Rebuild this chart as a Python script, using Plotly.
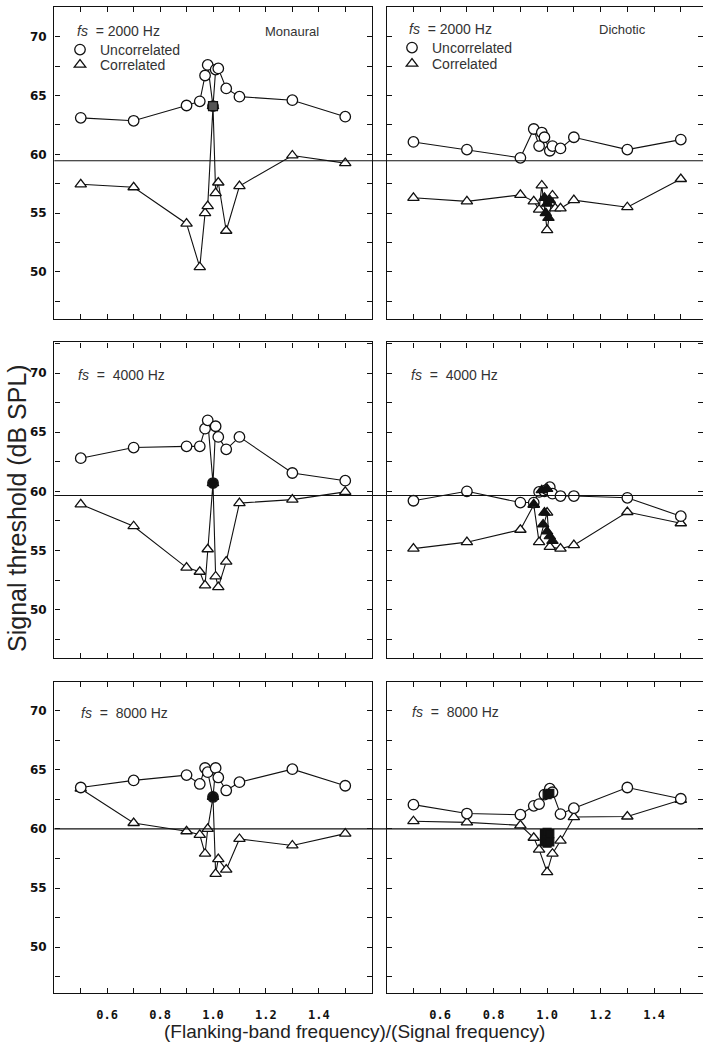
import plotly.graph_objects as go

W, H = 703, 1043

# ---------------- data ----------------
# Monaural, fs = 2000 Hz
m2_u_x = [0.5, 0.7, 0.9, 0.95, 0.97, 0.98, 1.0, 1.01, 1.02, 1.05, 1.1, 1.3, 1.5]
m2_u_y = [63.1, 62.85, 64.15, 64.5, 66.7, 67.6, 64.1, 67.2, 67.3, 65.6, 64.9, 64.6, 63.2]
m2_c_x = [0.5, 0.7, 0.9, 0.95, 0.97, 0.98, 1.0, 1.01, 1.02, 1.05, 1.1, 1.3, 1.5]
m2_c_y = [57.45, 57.2, 54.1, 50.4, 55.0, 55.6, 64.1, 56.7, 57.6, 53.5, 57.3, 59.9, 59.25]
m2_f_x = [1.0]
m2_f_y = [64.1]

# Monaural, fs = 4000 Hz
m4_u_x = [0.5, 0.7, 0.9, 0.95, 0.97, 0.98, 1.0, 1.01, 1.02, 1.05, 1.1, 1.3, 1.5]
m4_u_y = [62.8, 63.7, 63.8, 63.8, 65.3, 66.0, 60.7, 65.5, 64.6, 63.55, 64.6, 61.55, 60.9]
m4_c_x = [0.5, 0.7, 0.9, 0.95, 0.97, 0.98, 1.0, 1.01, 1.02, 1.05, 1.1, 1.3, 1.5]
m4_c_y = [58.9, 57.05, 53.55, 53.2, 52.05, 55.1, 60.7, 52.8, 51.9, 54.05, 59.0, 59.3, 59.95]
m4_f_x = [1.0]
m4_f_y = [60.7]

# Monaural, fs = 8000 Hz
m8_u_x = [0.5, 0.7, 0.9, 0.95, 0.97, 0.98, 1.0, 1.01, 1.02, 1.05, 1.1, 1.3, 1.5]
m8_u_y = [63.5, 64.1, 64.55, 63.8, 65.15, 64.8, 62.7, 65.15, 64.35, 63.25, 63.95, 65.05, 63.65]
m8_c_x = [0.5, 0.7, 0.9, 0.95, 0.97, 0.98, 1.0, 1.01, 1.02, 1.05, 1.1, 1.3, 1.5]
m8_c_y = [63.4, 60.5, 59.8, 59.5, 57.9, 60.0, 62.7, 56.2, 57.45, 56.55, 59.15, 58.6, 59.6]
m8_f_x = [1.0]
m8_f_y = [62.7]

# Dichotic, fs = 2000 Hz
d2_u_x = [0.5, 0.7, 0.9, 0.95, 0.97, 0.98, 0.99, 1.01, 1.02, 1.05, 1.1, 1.3, 1.5]
d2_u_y = [61.05, 60.4, 59.7, 62.15, 60.7, 61.85, 61.45, 60.3, 60.7, 60.5, 61.45, 60.4, 61.25]
d2_c_x = [0.5, 0.7, 0.9, 0.95, 0.97, 0.98, 1.0, 1.02, 1.03, 1.05, 1.1, 1.3, 1.5]
d2_c_y = [56.3, 56.0, 56.55, 56.0, 55.3, 57.35, 53.55, 56.5, 55.4, 55.4, 56.1, 55.5, 57.9]
d2_f_x = [0.99, 1.0, 1.01, 0.995, 1.005]
d2_f_y = [56.3, 55.8, 56.1, 55.0, 54.6]

# Dichotic, fs = 4000 Hz
d4_u_x = [0.5, 0.7, 0.9, 0.95, 0.97, 0.99, 1.0, 1.01, 1.02, 1.05, 1.1, 1.3, 1.5]
d4_u_y = [59.2, 60.0, 59.05, 59.05, 59.95, 60.0, 60.15, 60.35, 59.8, 59.6, 59.6, 59.45, 57.9]
d4_c_x = [0.5, 0.7, 0.9, 0.95, 0.97, 1.0, 1.01, 1.05, 1.1, 1.3, 1.5]
d4_c_y = [55.15, 55.7, 56.75, 58.85, 55.7, 58.2, 55.3, 55.15, 55.45, 58.25, 57.3]
d4_f_x = [0.95, 0.99, 0.985, 1.0, 1.01, 1.02, 0.98, 1.0]
d4_f_y = [58.9, 58.2, 57.2, 56.6, 56.2, 55.8, 60.1, 60.2]

# Dichotic, fs = 8000 Hz
d8_u_x = [0.5, 0.7, 0.9, 0.95, 0.97, 0.99, 1.01, 1.02, 1.05, 1.1, 1.3, 1.5]
d8_u_y = [62.05, 61.3, 61.2, 61.95, 62.1, 62.9, 63.4, 63.1, 61.25, 61.75, 63.5, 62.55]
d8_c_x = [0.5, 0.7, 0.9, 0.95, 0.97, 1.0, 1.02, 1.05, 1.1, 1.3, 1.5]
d8_c_y = [60.65, 60.55, 60.3, 59.25, 58.25, 56.35, 57.9, 59.0, 61.0, 61.05, 62.45]
d8_f_x = [0.99, 1.0, 1.01, 0.99, 1.0, 1.01, 1.0, 1.01]
d8_f_y = [59.6, 59.7, 59.6, 58.9, 58.8, 58.9, 62.9, 63.0]

ref_levels = [59.45, 59.65, 60.0]
freq_labels = ["2000", "4000", "8000"]
x_ticks = [0.5, 0.6, 0.7, 0.8, 0.9, 1.0, 1.1, 1.2, 1.3, 1.4, 1.5]
x_ticktext = ["", "0.6", "", "0.8", "", "1.0", "", "1.2", "", "1.4", ""]
y_ticks = [47.5, 50, 52.5, 55, 57.5, 60, 62.5, 65, 67.5, 70, 72.5]
y_ticktext = ["", "50", "", "55", "", "60", "", "65", "", "70", ""]

panels = [
    # (row, col, U, C, filled, filled symbol)
    (0, 0, (m2_u_x, m2_u_y), (m2_c_x, m2_c_y), (m2_f_x, m2_f_y), "square"),
    (0, 1, (d2_u_x, d2_u_y), (d2_c_x, d2_c_y), (d2_f_x, d2_f_y), "triangle-up"),
    (1, 0, (m4_u_x, m4_u_y), (m4_c_x, m4_c_y), (m4_f_x, m4_f_y), "circle"),
    (1, 1, (d4_u_x, d4_u_y), (d4_c_x, d4_c_y), (d4_f_x, d4_f_y), "triangle-up"),
    (2, 0, (m8_u_x, m8_u_y), (m8_c_x, m8_c_y), (m8_f_x, m8_f_y), "circle"),
    (2, 1, (d8_u_x, d8_u_y), (d8_c_x, d8_c_y), (d8_f_x, d8_f_y), "square"),
]

# ---------------- layout geometry (pixels) ----------------
col_px = [(54.3, 371.7), (386.7, 703.0)]
row_px = [(6.7, 319.3), (342.3, 658.3), (681.7, 993.0)]
x_ranges = [[0.4, 1.6], [0.4, 1.583]]
y_ranges = [[45.97, 72.55], [45.88, 72.6], [46.12, 72.45]]


def px(x):
    return x / W


def py(y):
    return 1 - y / H


fig = go.Figure()
layout = dict(
    width=W, height=H, margin=dict(l=0, r=0, t=0, b=0, autoexpand=False),
    paper_bgcolor="white", plot_bgcolor="white", showlegend=True,
)

LINE = "#111111"
FONT = "Liberation Sans, Arial, sans-serif"

for i, (r, c, U, C, F, fsym) in enumerate(panels):
    n = i + 1
    xa = "x" if n == 1 else f"x{n}"
    ya = "y" if n == 1 else f"y{n}"
    xkey = "xaxis" if n == 1 else f"xaxis{n}"
    ykey = "yaxis" if n == 1 else f"yaxis{n}"
    layout[xkey] = dict(
        domain=[px(col_px[c][0]), px(col_px[c][1])], range=x_ranges[c],
        anchor=ya, tickvals=x_ticks,
        ticktext=x_ticktext if r == 2 else [""] * len(x_ticks),
        ticks="inside", ticklen=5, tickwidth=1.3, tickcolor=LINE,
        showline=True, linecolor=LINE, linewidth=1.4, mirror="ticks",
        showgrid=False, zeroline=False, ticklabelstandoff=10,
        tickfont=dict(family="DejaVu Sans Mono, monospace", size=12, color="#111", weight="bold"),
    )
    layout[ykey] = dict(
        domain=[py(row_px[r][1]), py(row_px[r][0])], range=y_ranges[r],
        anchor=xa, tickvals=y_ticks,
        ticktext=y_ticktext if c == 0 else [""] * len(y_ticks),
        ticks="inside", ticklen=5, tickwidth=1.3, tickcolor=LINE,
        showline=True, linecolor=LINE, linewidth=1.4, mirror="ticks",
        showgrid=False, zeroline=False, ticklabelstandoff=4,
        tickfont=dict(family="DejaVu Sans, sans-serif", size=12, color="#111", weight="bold"),
    )
    # series
    fig.add_trace(go.Scatter(
        x=C[0], y=C[1], xaxis=xa, yaxis=ya, mode="lines+markers",
        line=dict(color=LINE, width=1.1),
        marker=dict(symbol="triangle-up", size=10, color="white", line=dict(color=LINE, width=1.3)),
        showlegend=False, name="Correlated"))
    fig.add_trace(go.Scatter(
        x=U[0], y=U[1], xaxis=xa, yaxis=ya, mode="lines+markers",
        line=dict(color=LINE, width=1.1),
        marker=dict(symbol="circle", size=10.5, color="white", line=dict(color=LINE, width=1.3)),
        showlegend=False, name="Uncorrelated"))
    fig.add_trace(go.Scatter(
        x=F[0], y=F[1], xaxis=xa, yaxis=ya, mode="markers",
        marker=dict(symbol=fsym, size=9 if c == 0 else (8 if n == 6 else 10),
                    color="#555" if n == 1 else "#111", line=dict(color=LINE, width=1.2)),
        showlegend=False, name="on-frequency"))
    # legend (symbols only) for the top row, one legend per entry
    if r == 0:
        lg_u = "legend" if c == 0 else "legend3"
        lg_c = "legend2" if c == 0 else "legend4"
        fig.add_trace(go.Scatter(
            x=[None], y=[None], xaxis=xa, yaxis=ya, mode="markers", name="Uncorrelated",
            marker=dict(symbol="circle", size=10.5, color="white", line=dict(color=LINE, width=1.3)),
            legend=lg_u))
        fig.add_trace(go.Scatter(
            x=[None], y=[None], xaxis=xa, yaxis=ya, mode="markers", name="Correlated",
            marker=dict(symbol="triangle-up", size=10, color="white", line=dict(color=LINE, width=1.3)),
            legend=lg_c))

legend_common = dict(
    bgcolor="rgba(0,0,0,0)", borderwidth=0, xanchor="left", yanchor="top",
    font=dict(family=FONT, size=14, color="#333"), tracegroupgap=0,
    itemwidth=30, traceorder="normal",
)
layout["legend"] = dict(legend_common, x=px(60), y=py(34))
layout["legend2"] = dict(legend_common, x=px(60), y=py(49))
layout["legend3"] = dict(legend_common, x=px(392), y=py(32))
layout["legend4"] = dict(legend_common, x=px(392), y=py(48))

# horizontal reference lines spanning both columns
shapes = []
for r, lvl in enumerate(ref_levels):
    yref = "y" if r == 0 else f"y{2 * r + 1}"
    shapes.append(dict(type="line", xref="paper", yref=yref,
                       x0=px(col_px[0][0]), x1=1.0, y0=lvl, y1=lvl,
                       line=dict(color=LINE, width=1.1)))
layout["shapes"] = shapes

ann = []
fs_pos = [  # (x_left_px, y_center_px) for left / right panels per row
    ((75, 31), (407, 29)),
    ((76, 375), (409, 375)),
    ((79, 713), (410, 712)),
]
for r, f in enumerate(freq_labels):
    sep = "\u00a0\u00a0=\u00a0" if r == 0 else "\u00a0\u00a0=\u00a0\u00a0"
    for c in range(2):
        xx, yy = fs_pos[r][c]
        ann.append(dict(text=f"<i>fs</i>{sep}{f} Hz", x=px(xx), y=py(yy), xref="paper", yref="paper",
                        xanchor="left", yanchor="middle", showarrow=False,
                        font=dict(family=FONT, size=14, color="#333")))
ann.append(dict(text="Monaural", x=px(263), y=py(31), xref="paper", yref="paper",
                xanchor="left", yanchor="middle", showarrow=False,
                font=dict(family=FONT, size=13, color="#333")))
ann.append(dict(text="Dichotic", x=px(597), y=py(30), xref="paper", yref="paper",
                xanchor="left", yanchor="middle", showarrow=False,
                font=dict(family=FONT, size=13, color="#333")))
ann.append(dict(text="Signal threshold (dB SPL)", x=px(17), y=py(508), xref="paper", yref="paper",
                xanchor="center", yanchor="middle", textangle=-90, showarrow=False,
                font=dict(family=FONT, size=25, color="#222")))
ann.append(dict(text="(Flanking-band frequency)/(Signal frequency)", x=px(354), y=py(1031),
                xref="paper", yref="paper", xanchor="center", yanchor="middle", showarrow=False,
                font=dict(family=FONT, size=19, color="#222")))
layout["annotations"] = ann

fig.update_layout(**layout)
fig.write_html("out.html", config={"displayModeBar": False},
               post_script="document.body.style.margin='0px';document.body.style.overflow='hidden';")
